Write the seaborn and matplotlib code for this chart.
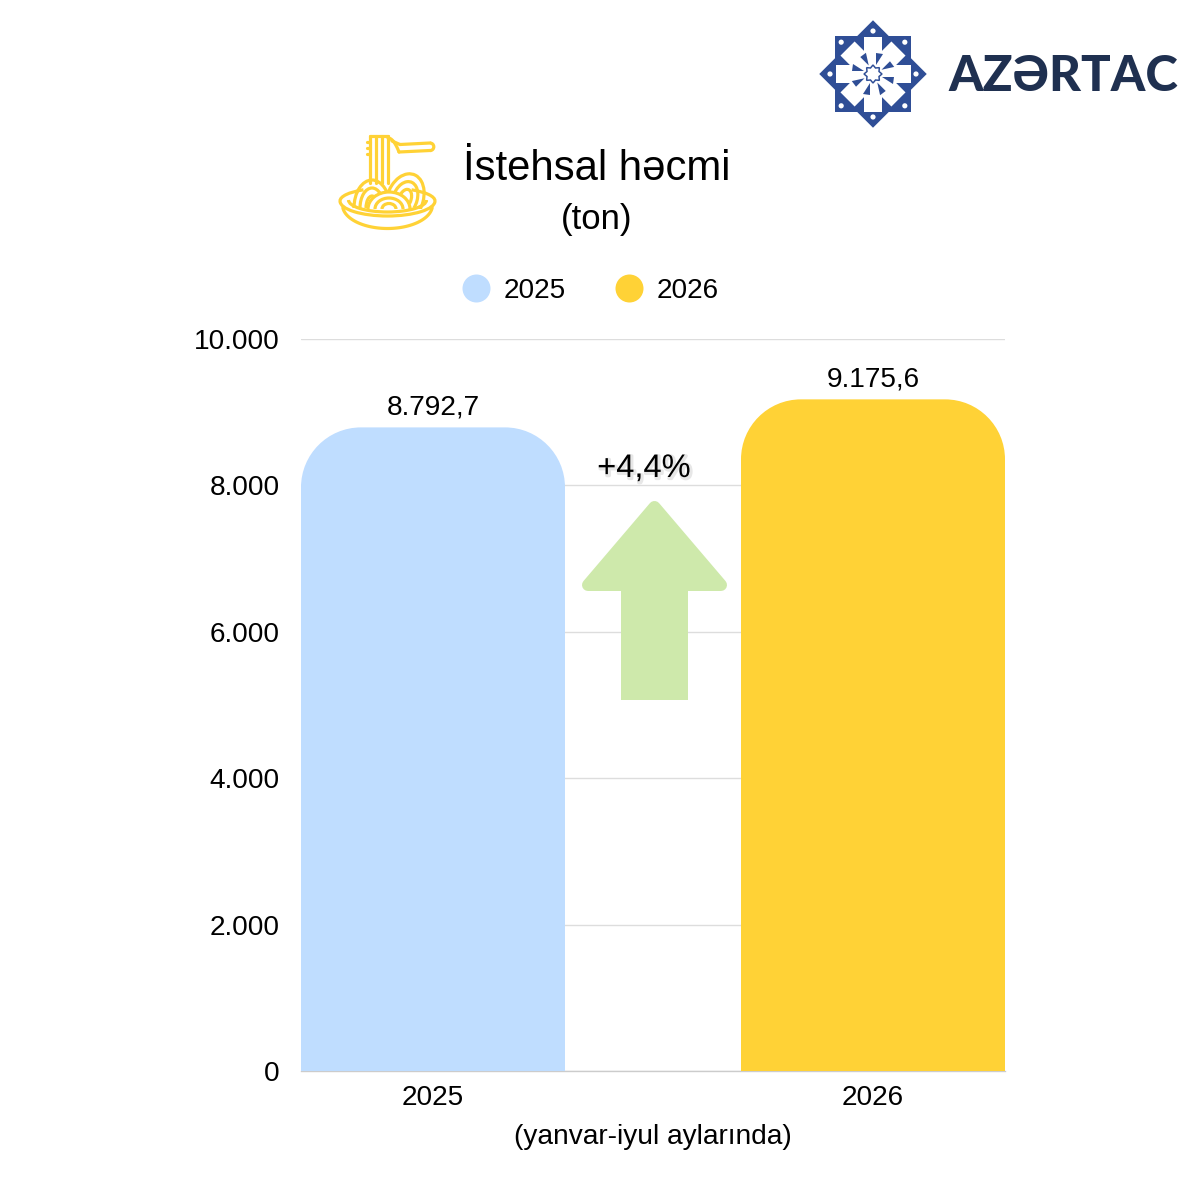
import numpy as np
import pandas as pd
import seaborn as sns
import matplotlib
matplotlib.use("Agg")
import matplotlib.pyplot as plt
from matplotlib.path import Path
from matplotlib.patches import PathPatch, Polygon, Ellipse, Circle, Rectangle, Arc
from matplotlib.lines import Line2D
import matplotlib.patheffects as pe

years = ["2025", "2026"]
volumes = [8792.7, 9175.6]
colors = ["#BFDDFF", "#FFD236"]
yticks = [0, 2000, 4000, 6000, 8000, 10000]
ytick_labels = ["0", "2.000", "4.000", "6.000", "8.000", "10.000"]
title = "İstehsal həcmi"
subtitle = "(ton)"
xlabel = "(yanvar-iyul aylarında)"
change = "+4,4%"
brand = "AZƏRTAC"

sns.set_theme(style="white")
plt.rcParams["font.family"] = ["Liberation Sans", "DejaVu Sans"]
PX = 0.72  # points per pixel at dpi 100
FS = 20.2

fig = plt.figure(figsize=(12, 12), dpi=100, facecolor="white")
ax = fig.add_axes([301 / 1200, 1 - 1071.2 / 1200, 704 / 1200, 732.2 / 1200])
df = pd.DataFrame({"il": years, "hecm": volumes})
sns.barplot(data=df, x="il", y="hecm", hue="il", palette=colors, width=0.6,
            saturation=1, legend=False, ax=ax, zorder=3)
ax.set_xlim(-0.3, 1.3)
ax.set_ylim(0, 10000)
ax.set_yticks(yticks, ytick_labels)
ax.set_xlabel("")
ax.set_ylabel("")
ax.grid(axis="y", color="#DDDDDD", lw=1, zorder=0)
ax.set_axisbelow(True)
for s in ["top", "right", "left"]:
    ax.spines[s].set_visible(False)
ax.spines["bottom"].set_color("#CCCCCC")
ax.spines["bottom"].set_linewidth(1)
ax.tick_params(axis="both", length=0, labelsize=FS, labelcolor="#000000")
ax.tick_params(axis="y", pad=15.2)
ax.tick_params(axis="x", pad=10)

# rounded tops built from the bars seaborn drew
rx_px, ry_px = 60, 60
x_per_px = 1.6 / 704
y_per_px = 10000 / 732
K = 0.5523
bars = list(ax.patches)
for bar, val in zip(bars, volumes):
    x0, w, h = bar.get_x(), bar.get_width(), bar.get_height()
    rx, ry = rx_px * x_per_px, ry_px * y_per_px
    x1 = x0 + w
    verts = [(x0, 0), (x0, h - ry), (x0, h - ry + K * ry), (x0 + rx - K * rx, h), (x0 + rx, h),
             (x1 - rx, h), (x1 - rx + K * rx, h), (x1, h - ry + K * ry), (x1, h - ry), (x1, 0), (x0, 0)]
    codes = [Path.MOVETO, Path.LINETO, Path.CURVE4, Path.CURVE4, Path.CURVE4,
             Path.LINETO, Path.CURVE4, Path.CURVE4, Path.CURVE4, Path.LINETO, Path.CLOSEPOLY]
    ax.add_patch(PathPatch(Path(verts, codes), fc=bar.get_facecolor(), ec="none", zorder=3))
    bar.set_visible(False)
    label = f"{val:,.1f}".replace(",", "#").replace(".", ",").replace("#", ".")
    ax.annotate(label, (x0 + w / 2, h), xytext=(0.2, 5), textcoords="offset points",
                ha="center", va="bottom", fontsize=FS, color="#000000", zorder=5)

handles = [Line2D([], [], ls="none", marker="o", ms=28 * PX, mfc=c, mec="none") for c in colors]
fig.legend(handles, years, loc="center", bbox_to_anchor=(583.5 / 1200, 1 - 290.5 / 1200), ncols=2,
           frameon=False, fontsize=FS, handletextpad=-0.03, columnspacing=1.27, labelcolor="#000000")

# overlay in pixel coordinates
ov = fig.add_axes([0, 0, 1, 1], zorder=10)
ov.set_xlim(0, 1200)
ov.set_ylim(1200, 0)
ov.axis("off")
ov.patch.set_alpha(0)

ov.text(597, 169, title, ha="center", va="center", fontsize=30.2, color="#000000")
ov.text(597, 219, subtitle, ha="center", va="center", fontsize=25, color="#000000")
ov.text(653, 1137, xlabel, ha="center", va="center", fontsize=FS, color="#000000")
ov.text(644, 468.5, change, ha="center", va="center", fontsize=23.5, color="#000000",
        path_effects=[pe.SimpleLineShadow(offset=(1, -1), shadow_color="#BBBBBB", alpha=0.35, linewidth=2.5),
                      pe.Normal()])

# arrow
GREEN = "#CEE9AB"
ov.add_patch(Polygon([(654.5, 507), (588, 585), (721, 585)], closed=True, fc=GREEN, ec=GREEN,
                     lw=12 * PX, joinstyle="round"))
ov.add_patch(Rectangle((621, 585), 67, 115, fc=GREEN, ec="none"))

# noodle icon
Y = "#FFD236"
lw = 3.2 * PX
def arch(cx, cy, w, h, angle=0, t1=180, t2=360):
    ov.add_patch(Arc((cx, cy), w, h, angle=angle, theta1=t1, theta2=t2, ec=Y, lw=lw))
# fork
for xx in (370, 376, 382, 388):
    ov.plot([xx, xx], [136, 183], color=Y, lw=lw, solid_capstyle="round")
ov.plot([370, 388], [135.5, 135.5], color=Y, lw=lw, solid_capstyle="round")
for yy in (142, 148, 154):
    ov.plot([366.5, 370], [yy, yy], color=Y, lw=lw, solid_capstyle="round")
t = np.linspace(0, 1, 20)
ov.plot(388 + 11 * t, 138 + 14 * t ** 2, color=Y, lw=lw)
ov.plot(392 + 8 * t, 141 + 3.5 * t, color=Y, lw=lw)
ov.plot([399, 430], [152, 150.5], color=Y, lw=lw)
ov.plot([400, 430], [144.5, 143], color=Y, lw=lw)
ov.add_patch(Arc((430, 146.8), 7.6, 7.6, theta1=-90, theta2=90, ec=Y, lw=lw))
# mounds
for w_, h_ in ((36, 56), (24, 40), (12, 24)):
    arch(372, 208, w_, h_)
ov.add_patch(Ellipse((405, 199), 36, 52, angle=20, fc="white", ec="none"))
for w_, h_ in ((36, 52), (24, 36), (12, 20)):
    arch(405, 199, w_, h_, angle=20, t1=170, t2=385)
ov.add_patch(Ellipse((389, 209), 44, 36, fc="white", ec="none"))
for w_, h_ in ((42, 34), (28, 22), (14, 11)):
    arch(389, 209, w_, h_)
# bowl
ov.add_patch(Rectangle((340, 209), 95, 7, fc="white", ec="none"))
ov.add_patch(Arc((387.5, 201), 95, 30, theta1=0, theta2=180, ec=Y, lw=lw))
ov.add_patch(Arc((387.5, 201), 95, 26, theta1=180, theta2=205, ec=Y, lw=lw))
ov.add_patch(Arc((387.5, 201), 95, 26, theta1=335, theta2=360, ec=Y, lw=lw))
ov.add_patch(Arc((387.5, 200), 78, 24, theta1=0, theta2=180, ec=Y, lw=lw))
bt = np.linspace(0.12, np.pi - 0.12, 60)
ov.plot(387.5 + 45 * np.cos(bt), 205 + 23.5 * np.sin(bt), color=Y, lw=lw)

# logo
BLUE = "#2F4E96"
cx, cy = 873, 74
def rot(pts, a):
    c, s = np.cos(a), np.sin(a)
    p = np.asarray(pts, float)
    return np.c_[cx + p[:, 0] * c - p[:, 1] * s, cy + p[:, 0] * s + p[:, 1] * c]
sq = [(-38, -38), (38, -38), (38, 38), (-38, 38)]
ov.add_patch(Polygon(rot(sq, 0), fc=BLUE, ec="none"))
ov.add_patch(Polygon(rot(sq, np.pi / 4), fc=BLUE, ec="none"))
ov.add_patch(Circle((cx, cy), 19, fc="white", ec="none"))
for k in range(8):
    a = k * np.pi / 4
    if k % 2 == 0:
        ov.add_patch(Polygon(rot([(10, -9), (37.5, -9), (37.5, 9), (10, 9)], a), fc="white", ec="none"))
        ov.add_patch(Circle(rot([(43, 0)], a)[0], 2.6, fc="white", ec="none"))
    else:
        ov.add_patch(Polygon(rot([(12, -10), (36, -10), (36, 10), (12, 10)], a), fc="white", ec="none"))
        ov.add_patch(Circle(rot([(45, 0)], a)[0], 2.6, fc="white", ec="none"))
for k in range(8):
    a = k * np.pi / 4
    ov.add_patch(Polygon(rot([(9, 3), (20, 10), (21, 3)], a), fc=BLUE, ec="none"))
star = [(9 if i % 2 == 0 else 6.5) for i in range(16)]
ov.add_patch(Polygon(rot([(r * np.cos(i * np.pi / 8), r * np.sin(i * np.pi / 8)) for i, r in enumerate(star)], 0),
                     fc="white", ec=BLUE, lw=1.5 * PX))
ov.text(948, 76.5, brand, ha="left", va="center", fontsize=35.5, fontweight="black",
        family=["Lato", "DejaVu Sans"], color="#1F3050")

fig.savefig("out.png", dpi=100, facecolor="white")
